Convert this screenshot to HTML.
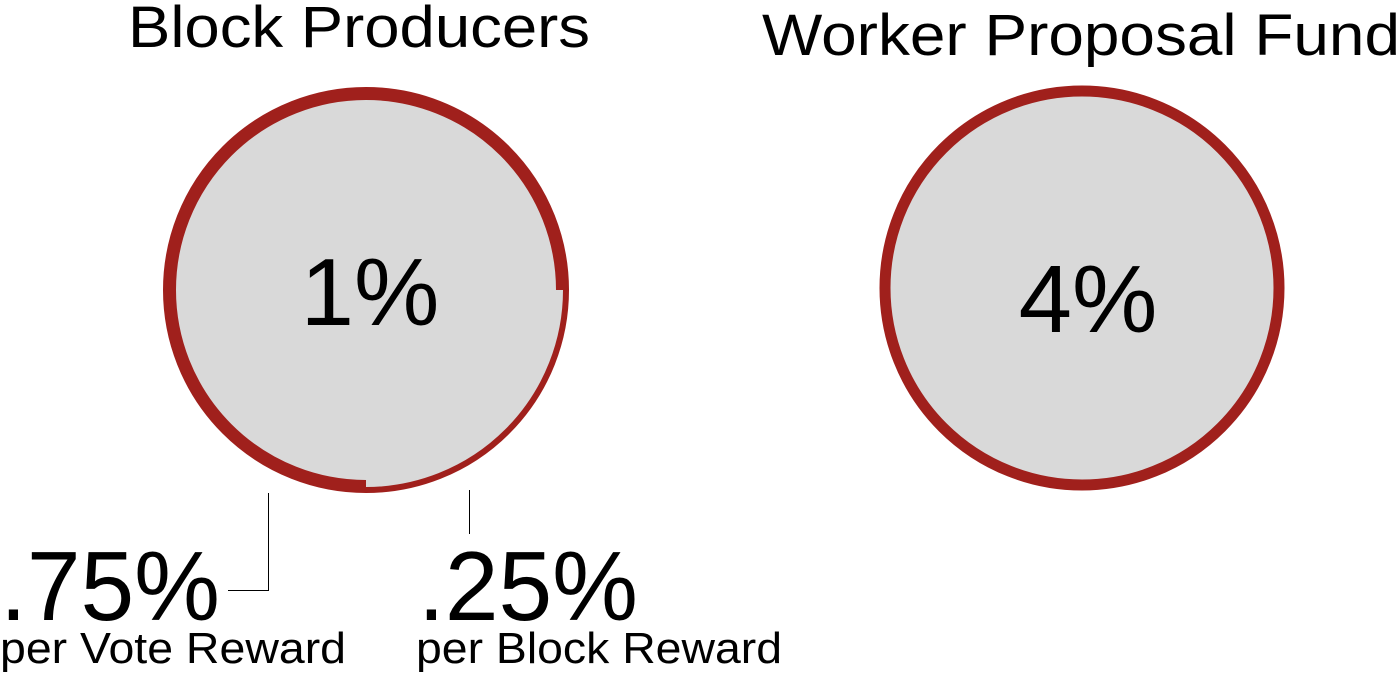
<!DOCTYPE html>
<html><head><meta charset="utf-8"><style>
html,body{margin:0;padding:0;background:#fff;width:1400px;height:674px;overflow:hidden}
svg text{font-family:"Liberation Sans",sans-serif;fill:#000}
</style></head><body>
<svg id="chart" width="1400" height="674" viewBox="0 0 1400 674" xmlns="http://www.w3.org/2000/svg">
<text x="128" y="47" font-size="58" textLength="462" lengthAdjust="spacingAndGlyphs">Block Producers</text>
<text x="762" y="55" font-size="58" textLength="638" lengthAdjust="spacingAndGlyphs">Worker Proposal Fund</text>
<g id="left"></g>
<circle cx="1082" cy="288" r="197" fill="#d9d9d9" stroke="#a0201c" stroke-width="11"/>
<text x="370" y="325" font-size="96" text-anchor="middle">1%</text>
<text x="1088" y="332" font-size="96" text-anchor="middle">4%</text>
<path d="M268.5 493 V590.5 H228" fill="none" stroke="#000" stroke-width="1"/>
<path d="M469.5 490 V534" fill="none" stroke="#000" stroke-width="1"/>
<text x="0" y="620" font-size="98" textLength="220" lengthAdjust="spacingAndGlyphs">.75%</text>
<text x="0" y="663" font-size="44" textLength="346" lengthAdjust="spacingAndGlyphs">per Vote Reward</text>
<text x="418" y="620" font-size="98" textLength="220" lengthAdjust="spacingAndGlyphs">.25%</text>
<text x="416" y="663" font-size="44" textLength="366" lengthAdjust="spacingAndGlyphs">per Block Reward</text>
</svg>
<script>
const segmentNames = ['vote-reward-arc', 'block-reward-arc'];
const segmentShares = [0.75, 0.25];
const segmentWidths = [13, 6];
const g = document.getElementById('left');
const cx = 366, cy = 290, R = 203;
const bg = document.createElementNS('http://www.w3.org/2000/svg', 'circle');


bg.setAttribute('cx', cx); bg.setAttribute('cy', cy); bg.setAttribute('r', R - 4);
bg.setAttribute('fill', '#d9d9d9');
g.appendChild(bg);
// start at bottom (90deg in SVG coords), go clockwise (left, top, right)
let a = Math.PI / 2;
segmentShares.forEach((s, i) => {
  const w = segmentWidths[i];
  const r = R - w / 2;
  const a2 = a + s * 2 * Math.PI;
  const x1 = cx + r * Math.cos(a), y1 = cy + r * Math.sin(a);
  const x2 = cx + r * Math.cos(a2), y2 = cy + r * Math.sin(a2);
  const large = s > 0.5 ? 1 : 0;
  const p = document.createElementNS('http://www.w3.org/2000/svg', 'path');
  
  
  p.setAttribute('d', `M${x1} ${y1} A${r} ${r} 0 ${large} 1 ${x2} ${y2}`);
  p.setAttribute('fill', 'none');
  p.setAttribute('stroke', '#a0201c');
  p.setAttribute('stroke-width', w);
  g.appendChild(p);
  a = a2;
});
</script>
</body></html>
